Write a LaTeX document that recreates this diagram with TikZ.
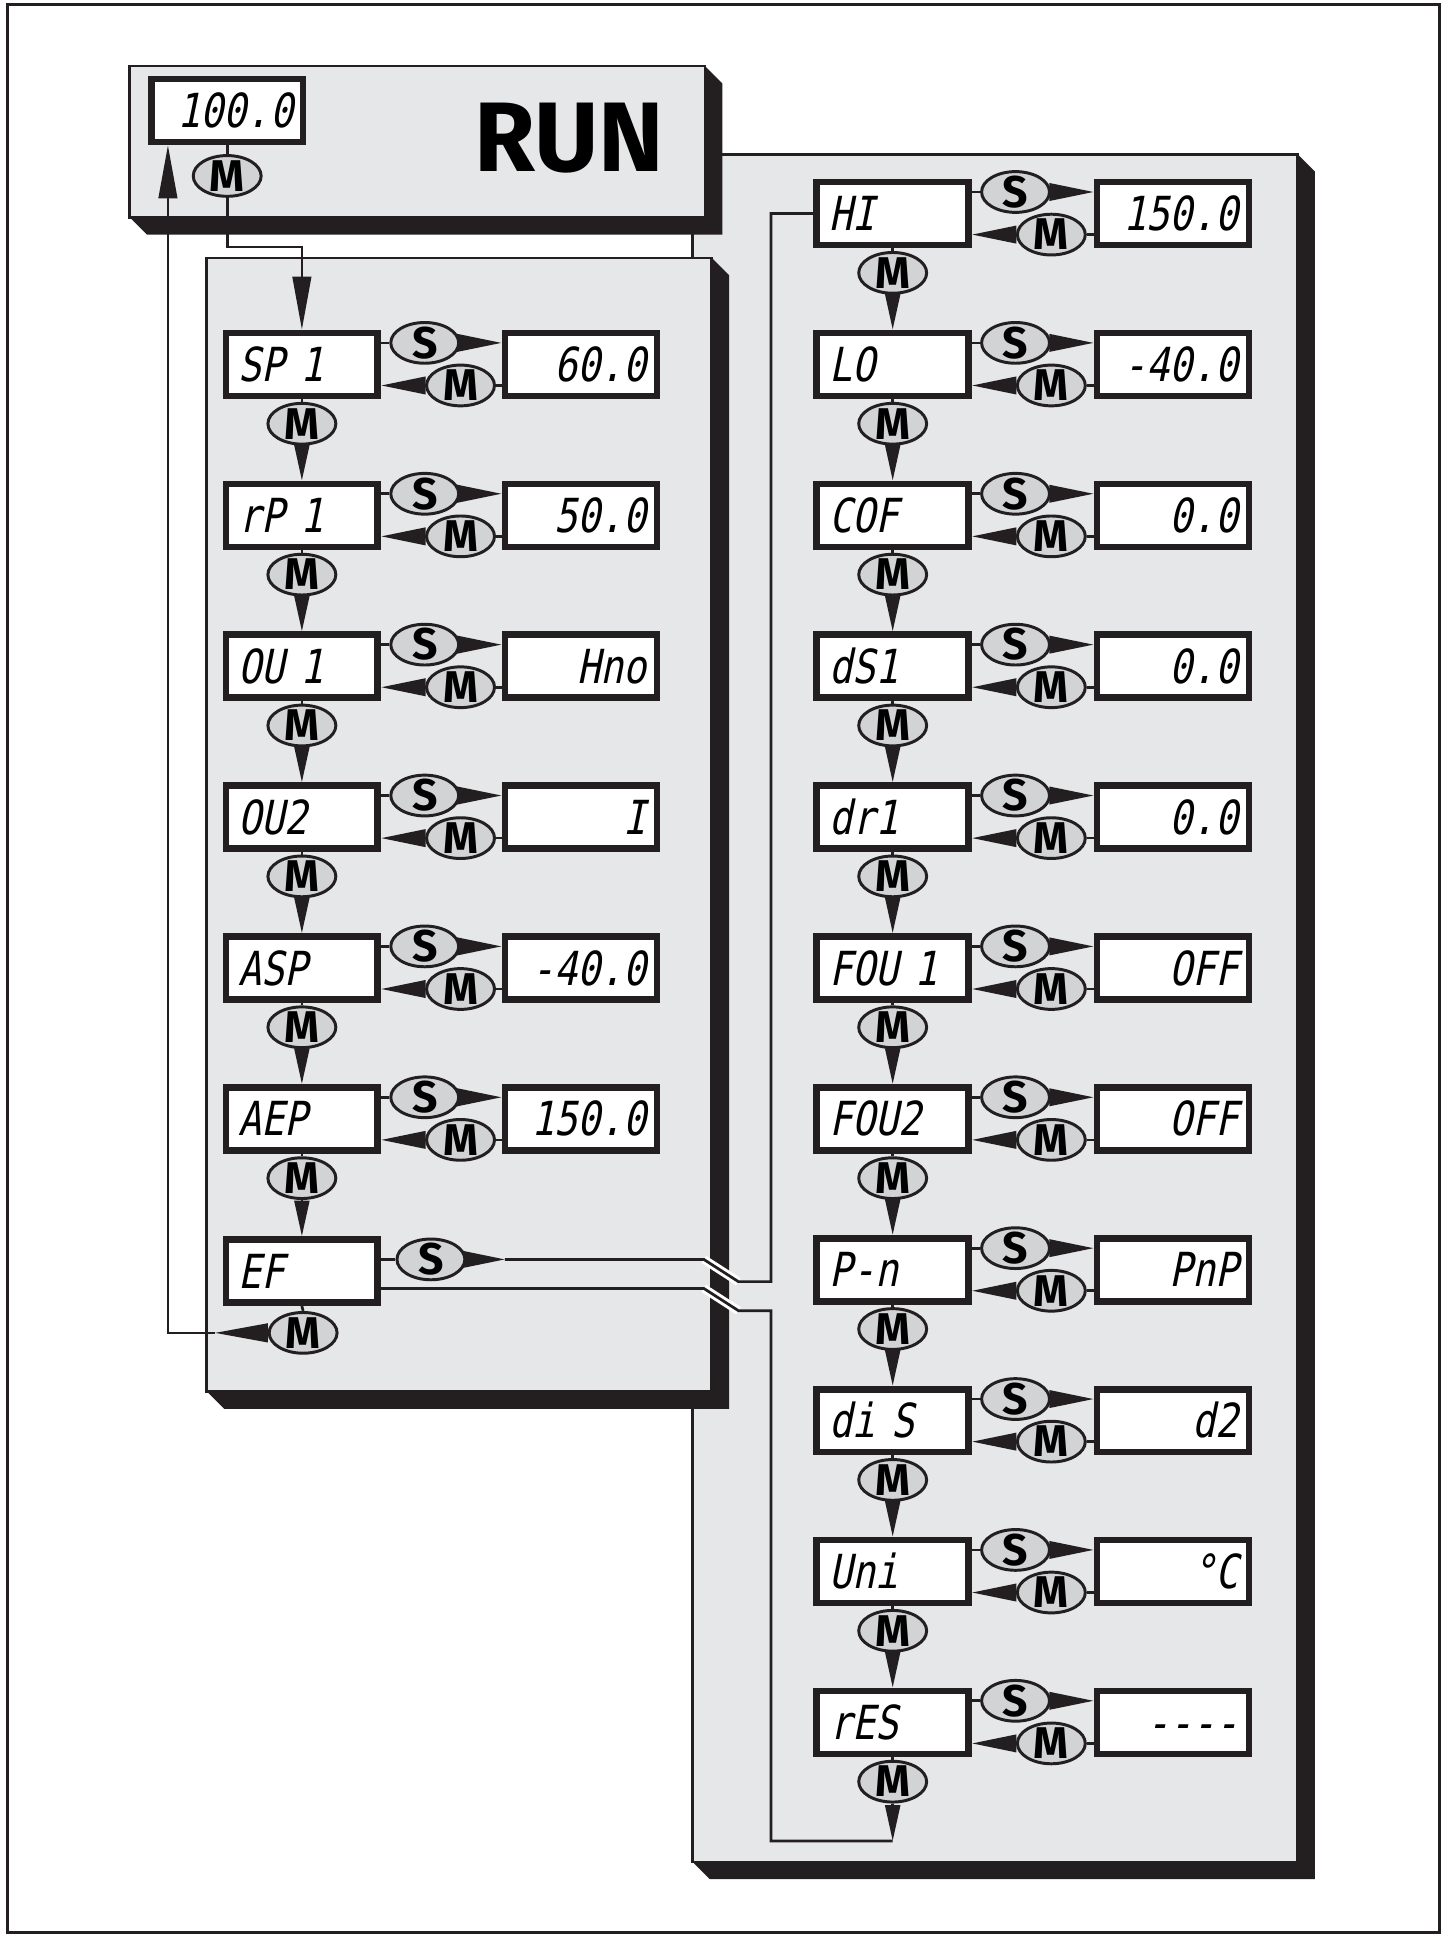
\documentclass[tikz,border=0pt]{standalone}
\usepackage{fontspec}
\usetikzlibrary{arrows.meta,shapes.geometric}
\newfontfamily\segfont{DejaVu Sans Mono}[FakeSlant=0.2,FakeStretch=0.82]
\newfontfamily\keyfont{Fira Sans}
\definecolor{ink}{RGB}{35,31,32}
\definecolor{panelgray}{RGB}{230,231,232}
\definecolor{keygray}{RGB}{209,211,212}
\pgfdeclarelayer{panels}
\pgfdeclarelayer{wires}
\pgfsetlayers{panels,wires,main}
\tikzset{
  parbox/.style ={draw=ink,fill=white,line width=5.4pt,minimum width=123pt,minimum height=51pt,
                   text width=103pt,inner xsep=10pt,inner ysep=0pt,align=left,
                   text height=27.7pt,text depth=0pt,font=\segfont\fontsize{38}{38}\selectfont},
  valbox/.style ={parbox,align=right,inner xsep=8pt,text width=107pt},
  key/.style    ={ellipse,draw=ink,fill=keygray,line width=2.4pt,minimum width=55pt,minimum height=33pt,
                   inner xsep=0pt,inner ysep=-1pt,text height=24.8pt,text depth=0pt,
                   font=\keyfont\bfseries\fontsize{36}{36}\selectfont},
  wire/.style   ={draw=ink,line width=2.2pt},
  wedge/.style  ={wire,-{Triangle[length=36pt,width=14pt]}},
  wedgev/.style ={wire,-{Triangle[length=29pt,width=12pt]}},
  wedgel/.style ={wire,-{Triangle[length=43pt,width=15pt]}},
  halo/.style   ={draw=white,line width=7pt},
  shell/.style  ={draw=ink,fill=panelgray,line width=2.2pt},
  shade/.style  ={fill=ink},
}

\begin{document}
\begin{tikzpicture}[x=1pt,y=-1pt]
\useasboundingbox (0,0) rectangle (1174,1568);
\begin{pgfonlayer}{panels}
\fill[white] (0,0) rectangle (1174,1568);
\draw[ink,line width=2.4pt] (6,4) rectangle (1165.5,1565.5);
% extended functions panel
\fill[shade] (561,1508) -- (575,1522) -- (1065,1522) -- (1065,139) -- (1051,125) -- (1051,1508) -- cycle;
\draw[shell] (561,125) rectangle (1051,1508);
% run mode panel
\fill[shade] (105,176) -- (119,190) -- (585,190) -- (585,67.5) -- (571,53.5) -- (571,176) -- cycle;
\draw[shell] (105,53.5) rectangle (571,176);
% basic functions panel
\fill[shade] (167.5,1127) -- (181.5,1141) -- (590.5,1141) -- (590.5,223) -- (576.5,209) -- (576.5,1127) -- cycle;
\draw[shell] (167.5,209) rectangle (576.5,1127);
\end{pgfonlayer}

% Run mode
\node[valbox] (D0) at (184,89.5) {100.0};
\node[key]    (M0) at (184,142.5) {M};
\node[inner sep=0pt,text height=55pt,text depth=0pt,font=\keyfont\bfseries\fontsize{80}{80}\selectfont] (RUN) at (461,111) {RUN};

% Left column
\node[parbox] (L1) at (244.5,295.2) {SP 1};
\node[key] (LS1) at (344,277.7) {S};  \node[key] (LR1) at (373,312.2) {M};
\node[valbox] (LV1) at (470.5,295.2) {60.0};
\node[key] (LM1) at (244.5,343.2) {M};
\node[parbox] (L2) at (244.5,417.4) {rP 1};
\node[key] (LS2) at (344,399.9) {S};  \node[key] (LR2) at (373,434.4) {M};
\node[valbox] (LV2) at (470.5,417.4) {50.0};
\node[key] (LM2) at (244.5,465.4) {M};
\node[parbox] (L3) at (244.5,539.6) {OU 1};
\node[key] (LS3) at (344,522.1) {S};  \node[key] (LR3) at (373,556.6) {M};
\node[valbox] (LV3) at (470.5,539.6) {Hno};
\node[key] (LM3) at (244.5,587.6) {M};
\node[parbox] (L4) at (244.5,661.8) {OU2};
\node[key] (LS4) at (344,644.3) {S};  \node[key] (LR4) at (373,678.8) {M};
\node[valbox] (LV4) at (470.5,661.8) {I};
\node[key] (LM4) at (244.5,709.8) {M};
\node[parbox] (L5) at (244.5,784) {ASP};
\node[key] (LS5) at (344,766.5) {S};  \node[key] (LR5) at (373,801) {M};
\node[valbox] (LV5) at (470.5,784) {-40.0};
\node[key] (LM5) at (244.5,832) {M};
\node[parbox] (L6) at (244.5,906.2) {AEP};
\node[key] (LS6) at (344,888.7) {S};  \node[key] (LR6) at (373,923.2) {M};
\node[valbox] (LV6) at (470.5,906.2) {150.0};
\node[key] (LM6) at (244.5,954.2) {M};
\node[parbox] (L7) at (244.5,1029.5) {EF};
\node[key] (LS7) at (349,1020) {S};
\node[key] (LM7) at (245.5,1079.5) {M};

% Right column
\node[parbox] (R1) at (723,173) {HI};
\node[key] (RS1) at (822.5,155.5) {S};  \node[key] (RR1) at (851.5,190) {M};
\node[valbox] (RV1) at (950,173) {150.0};
\node[key] (RM1) at (723,221) {M};
\node[parbox] (R2) at (723,295.2) {LO};
\node[key] (RS2) at (822.5,277.7) {S};  \node[key] (RR2) at (851.5,312.2) {M};
\node[valbox] (RV2) at (950,295.2) {-40.0};
\node[key] (RM2) at (723,343.2) {M};
\node[parbox] (R3) at (723,417.4) {COF};
\node[key] (RS3) at (822.5,399.9) {S};  \node[key] (RR3) at (851.5,434.4) {M};
\node[valbox] (RV3) at (950,417.4) {0.0};
\node[key] (RM3) at (723,465.4) {M};
\node[parbox] (R4) at (723,539.6) {dS1};
\node[key] (RS4) at (822.5,522.1) {S};  \node[key] (RR4) at (851.5,556.6) {M};
\node[valbox] (RV4) at (950,539.6) {0.0};
\node[key] (RM4) at (723,587.6) {M};
\node[parbox] (R5) at (723,661.8) {dr1};
\node[key] (RS5) at (822.5,644.3) {S};  \node[key] (RR5) at (851.5,678.8) {M};
\node[valbox] (RV5) at (950,661.8) {0.0};
\node[key] (RM5) at (723,709.8) {M};
\node[parbox] (R6) at (723,784) {FOU 1};
\node[key] (RS6) at (822.5,766.5) {S};  \node[key] (RR6) at (851.5,801) {M};
\node[valbox] (RV6) at (950,784) {OFF};
\node[key] (RM6) at (723,832) {M};
\node[parbox] (R7) at (723,906.2) {FOU2};
\node[key] (RS7) at (822.5,888.7) {S};  \node[key] (RR7) at (851.5,923.2) {M};
\node[valbox] (RV7) at (950,906.2) {OFF};
\node[key] (RM7) at (723,954.2) {M};
\node[parbox] (R8) at (723,1028.4) {P-n};
\node[key] (RS8) at (822.5,1010.9) {S};  \node[key] (RR8) at (851.5,1045.4) {M};
\node[valbox] (RV8) at (950,1028.4) {PnP};
\node[key] (RM8) at (723,1076.4) {M};
\node[parbox] (R9) at (723,1150.6) {di S};
\node[key] (RS9) at (822.5,1133.1) {S};  \node[key] (RR9) at (851.5,1167.6) {M};
\node[valbox] (RV9) at (950,1150.6) {d2};
\node[key] (RM9) at (723,1198.6) {M};
\node[parbox] (R10) at (723,1272.8) {Uni};
\node[key] (RS10) at (822.5,1255.3) {S};  \node[key] (RR10) at (851.5,1289.8) {M};
\node[valbox] (RV10) at (950,1272.8) {°C};
\node[key] (RM10) at (723,1320.8) {M};
\node[parbox] (R11) at (723,1395) {rES};
\node[key] (RS11) at (822.5,1377.5) {S};  \node[key] (RR11) at (851.5,1412) {M};
\node[valbox] (RV11) at (950,1395) {-{}-{}-{}-};
\node[key] (RM11) at (723,1443) {M};

% bends of the long returns
\coordinate (j0) at (244.5,200);
\coordinate (j1) at (409,1020);   \coordinate (j2) at (570,1020);
\coordinate (j3) at (598,1038);   \coordinate (j4) at (624.5,1038);
\coordinate (j5) at (570,1043.5); \coordinate (j6) at (598,1061.5);
\coordinate (j7) at (624.5,1061.5); \coordinate (j8) at (624.5,1491);
\coordinate (j9) at (723,1491);
\coordinate (u1) at (174,1079.5); \coordinate (u2) at (136,1079.5);

\begin{pgfonlayer}{wires}
% run mode <-> menu
\draw[wire] (D0.south) -- (M0.north);
\draw[wedgel] (M0.south) |- (j0) -- (L1.north);
\draw[wire] (L7.south) -- (LM7.north); \draw[wedgel] (LM7.west) -- (u1);
\draw[wedgel] (u1) -- (u2) -- (u2 |- D0.south);
% left column: set / return
\draw[wire] (L1.east |- LS1) -- (LS1.west); \draw[wedge] (LS1.east) -- (LS1.east -| LV1.west);
\draw[wire] (LV1.west |- LR1) -- (LR1.east); \draw[wedge] (LR1.west) -- (LR1.west -| L1.east);
\draw[wire] (L2.east |- LS2) -- (LS2.west); \draw[wedge] (LS2.east) -- (LS2.east -| LV2.west);
\draw[wire] (LV2.west |- LR2) -- (LR2.east); \draw[wedge] (LR2.west) -- (LR2.west -| L2.east);
\draw[wire] (L3.east |- LS3) -- (LS3.west); \draw[wedge] (LS3.east) -- (LS3.east -| LV3.west);
\draw[wire] (LV3.west |- LR3) -- (LR3.east); \draw[wedge] (LR3.west) -- (LR3.west -| L3.east);
\draw[wire] (L4.east |- LS4) -- (LS4.west); \draw[wedge] (LS4.east) -- (LS4.east -| LV4.west);
\draw[wire] (LV4.west |- LR4) -- (LR4.east); \draw[wedge] (LR4.west) -- (LR4.west -| L4.east);
\draw[wire] (L5.east |- LS5) -- (LS5.west); \draw[wedge] (LS5.east) -- (LS5.east -| LV5.west);
\draw[wire] (LV5.west |- LR5) -- (LR5.east); \draw[wedge] (LR5.west) -- (LR5.west -| L5.east);
\draw[wire] (L6.east |- LS6) -- (LS6.west); \draw[wedge] (LS6.east) -- (LS6.east -| LV6.west);
\draw[wire] (LV6.west |- LR6) -- (LR6.east); \draw[wedge] (LR6.west) -- (LR6.west -| L6.east);
% left column: next
\draw[wire] (L1.south) -- (LM1.north); \draw[wedgev] (LM1.south) -- (L2.north);
\draw[wire] (L2.south) -- (LM2.north); \draw[wedgev] (LM2.south) -- (L3.north);
\draw[wire] (L3.south) -- (LM3.north); \draw[wedgev] (LM3.south) -- (L4.north);
\draw[wire] (L4.south) -- (LM4.north); \draw[wedgev] (LM4.south) -- (L5.north);
\draw[wire] (L5.south) -- (LM5.north); \draw[wedgev] (LM5.south) -- (L6.north);
\draw[wire] (L6.south) -- (LM6.north); \draw[wedgev] (LM6.south) -- (L7.north);
% EF -> extended functions and back
\draw[wire] (L7.east |- LS7) -- (LS7.west); \draw[wedge] (LS7.east) -- (j1);
\draw[halo] (j2) -- (j3); \draw[halo] (j5) -- (j6);
\draw[wire] (j1) -- (j2) -- (j3) -- (j4) |- (R1.west);
\draw[wedgev] (RM11.south) -- (j9);
\draw[wire] (j9) -- (j8) -- (j7) -- (j6) -- (j5) -- (j5 -| L7.east);
% right column: set / return
\draw[wire] (R1.east |- RS1) -- (RS1.west); \draw[wedge] (RS1.east) -- (RS1.east -| RV1.west);
\draw[wire] (RV1.west |- RR1) -- (RR1.east); \draw[wedge] (RR1.west) -- (RR1.west -| R1.east);
\draw[wire] (R2.east |- RS2) -- (RS2.west); \draw[wedge] (RS2.east) -- (RS2.east -| RV2.west);
\draw[wire] (RV2.west |- RR2) -- (RR2.east); \draw[wedge] (RR2.west) -- (RR2.west -| R2.east);
\draw[wire] (R3.east |- RS3) -- (RS3.west); \draw[wedge] (RS3.east) -- (RS3.east -| RV3.west);
\draw[wire] (RV3.west |- RR3) -- (RR3.east); \draw[wedge] (RR3.west) -- (RR3.west -| R3.east);
\draw[wire] (R4.east |- RS4) -- (RS4.west); \draw[wedge] (RS4.east) -- (RS4.east -| RV4.west);
\draw[wire] (RV4.west |- RR4) -- (RR4.east); \draw[wedge] (RR4.west) -- (RR4.west -| R4.east);
\draw[wire] (R5.east |- RS5) -- (RS5.west); \draw[wedge] (RS5.east) -- (RS5.east -| RV5.west);
\draw[wire] (RV5.west |- RR5) -- (RR5.east); \draw[wedge] (RR5.west) -- (RR5.west -| R5.east);
\draw[wire] (R6.east |- RS6) -- (RS6.west); \draw[wedge] (RS6.east) -- (RS6.east -| RV6.west);
\draw[wire] (RV6.west |- RR6) -- (RR6.east); \draw[wedge] (RR6.west) -- (RR6.west -| R6.east);
\draw[wire] (R7.east |- RS7) -- (RS7.west); \draw[wedge] (RS7.east) -- (RS7.east -| RV7.west);
\draw[wire] (RV7.west |- RR7) -- (RR7.east); \draw[wedge] (RR7.west) -- (RR7.west -| R7.east);
\draw[wire] (R8.east |- RS8) -- (RS8.west); \draw[wedge] (RS8.east) -- (RS8.east -| RV8.west);
\draw[wire] (RV8.west |- RR8) -- (RR8.east); \draw[wedge] (RR8.west) -- (RR8.west -| R8.east);
\draw[wire] (R9.east |- RS9) -- (RS9.west); \draw[wedge] (RS9.east) -- (RS9.east -| RV9.west);
\draw[wire] (RV9.west |- RR9) -- (RR9.east); \draw[wedge] (RR9.west) -- (RR9.west -| R9.east);
\draw[wire] (R10.east |- RS10) -- (RS10.west); \draw[wedge] (RS10.east) -- (RS10.east -| RV10.west);
\draw[wire] (RV10.west |- RR10) -- (RR10.east); \draw[wedge] (RR10.west) -- (RR10.west -| R10.east);
\draw[wire] (R11.east |- RS11) -- (RS11.west); \draw[wedge] (RS11.east) -- (RS11.east -| RV11.west);
\draw[wire] (RV11.west |- RR11) -- (RR11.east); \draw[wedge] (RR11.west) -- (RR11.west -| R11.east);
% right column: next
\draw[wire] (R1.south) -- (RM1.north); \draw[wedgev] (RM1.south) -- (R2.north);
\draw[wire] (R2.south) -- (RM2.north); \draw[wedgev] (RM2.south) -- (R3.north);
\draw[wire] (R3.south) -- (RM3.north); \draw[wedgev] (RM3.south) -- (R4.north);
\draw[wire] (R4.south) -- (RM4.north); \draw[wedgev] (RM4.south) -- (R5.north);
\draw[wire] (R5.south) -- (RM5.north); \draw[wedgev] (RM5.south) -- (R6.north);
\draw[wire] (R6.south) -- (RM6.north); \draw[wedgev] (RM6.south) -- (R7.north);
\draw[wire] (R7.south) -- (RM7.north); \draw[wedgev] (RM7.south) -- (R8.north);
\draw[wire] (R8.south) -- (RM8.north); \draw[wedgev] (RM8.south) -- (R9.north);
\draw[wire] (R9.south) -- (RM9.north); \draw[wedgev] (RM9.south) -- (R10.north);
\draw[wire] (R10.south) -- (RM10.north); \draw[wedgev] (RM10.south) -- (R11.north);
\draw[wire] (R11.south) -- (RM11.north);
\end{pgfonlayer}
\end{tikzpicture}
\end{document}
